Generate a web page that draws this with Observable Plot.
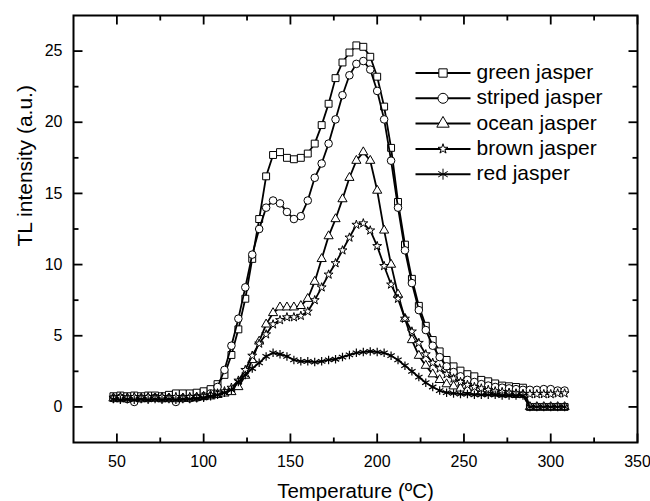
<!DOCTYPE html>
<html>
<head>
<meta charset="utf-8">
<script src="https://cdn.jsdelivr.net/npm/d3@7"></script>
<script src="https://cdn.jsdelivr.net/npm/@observablehq/plot@0.6"></script>
<style>
  html, body { margin: 0; padding: 0; background: #fff; }
</style>
</head>
<body>
<div id="chart"></div>
<script>
// Temperatures (°C)
const temps = [48,52,56,60,64,68,72,76,80,84,88,92,96,100,104,108,112,116,120,124,128,132,136,140,144,148,152,156,160,164,168,172,176,180,184,188,192,196,200,204,208,212,216,220,224,228,232,236,240,244,248,252,256,260,264,268,272,276,280,284,288,292,296,300,304,308];

// TL intensity (a.u.) per sample
const greenJasper = [0.75,0.8,0.75,0.8,0.75,0.8,0.8,0.75,0.85,
  0.95,0.95,0.95,1.0,1.1,1.25,1.6,2.25,3.65,5.45,
  7.6,10.4,13.2,16.2,17.7,17.9,17.5,17.4,17.5,17.8,
  18.5,19.8,21.3,23.1,24.2,24.9,25.4,25.3,24.6,23.2,
  21.1,18.2,14.4,11.4,9.0,7.1,5.7,4.7,3.9,3.3,
  2.85,2.55,2.3,2.15,1.9,1.8,1.65,1.5,1.45,1.4,
  1.35,
  0,0,0,0,0,0];
const stripedJasper = [0.6,0.65,0.55,0.35,0.6,0.6,0.65,0.6,0.6,
  0.35,0.6,0.6,0.65,0.75,0.95,1.4,2.6,4.3,6.2,
  8.4,10.7,12.5,14.0,14.5,14.3,13.7,13.2,13.4,14.5,
  16.1,17.1,18.5,20.2,21.9,23.3,24.1,24.3,23.7,22.2,
  20.2,17.3,14.0,11.0,8.7,6.8,5.4,4.3,3.5,2.85,
  2.45,2.15,1.9,1.75,1.6,1.5,1.4,1.35,1.3,1.25,
  1.2,
  1.2,1.2,1.25,1.25,1.15,1.15];
const oceanJasper = [0.6,0.55,0.6,0.6,0.55,0.6,0.6,0.55,0.6,
  0.55,0.6,0.6,0.65,0.7,0.75,0.85,0.95,1.05,1.4,
  2.2,3.3,4.6,5.8,6.6,7.0,7.0,7.0,7.1,7.6,
  8.8,10.4,12.0,13.2,14.6,16.1,17.3,17.9,17.3,15.2,
  12.4,10.0,7.9,6.2,4.7,3.6,2.9,2.3,1.9,1.6,
  1.45,1.3,1.2,1.1,1.05,1.0,0.95,0.9,0.9,0.85,
  0.85,
  0,0,0,0,0,0];
const brownJasper = [0.65,0.7,0.65,0.7,0.65,0.7,0.65,0.7,0.65,
  0.7,0.65,0.7,0.7,0.75,0.85,0.95,1.1,1.35,1.85,
  2.6,3.6,4.45,5.1,5.8,6.1,6.3,6.3,6.4,6.7,
  7.5,8.4,9.3,10.1,11.0,11.9,12.8,12.9,12.4,11.3,
  9.9,8.6,7.6,6.2,5.3,4.5,3.7,3.1,2.7,2.3,
  2.0,1.75,1.55,1.4,1.3,1.2,1.1,1.05,1.0,0.95,
  0.9,
  0.9,0.9,0.9,0.9,0.95,0.95];
const redJasper = [0.55,0.5,0.55,0.5,0.55,0.5,0.55,0.5,0.55,
  0.5,0.55,0.55,0.6,0.65,0.75,0.85,1.0,1.2,1.75,
  2.25,2.7,3.1,3.55,3.8,3.7,3.55,3.3,3.2,3.2,
  3.15,3.2,3.3,3.35,3.5,3.65,3.8,3.85,3.9,3.85,
  3.8,3.6,3.3,2.9,2.5,2.1,1.7,1.4,1.15,1.0,
  0.95,0.9,0.9,0.85,0.85,0.85,0.85,0.8,0.8,0.8,
  0.8,
  0,0,0,0,0,0];

const seriesNames = ["green jasper", "striped jasper", "ocean jasper", "brown jasper", "red jasper"];
const seriesSymbols = ["square", "circle", "triangle", "star", "asterisk"];
const seriesValues = [greenJasper, stripedJasper, oceanJasper, brownJasper, redJasper];

const xTickLabels = [50, 100, 150, 200, 250, 300, 350];
const xMinorTicks = [75, 125, 175, 225, 275, 325];
const yTickLabels = [0, 5, 10, 15, 20, 25];
const yMinorTicks = [2.5, 7.5, 12.5, 17.5, 22.5];

// styling (not data)
const dotR = [3.9, 3.8, 3.4, 2.8, 4.0];
const legendR = [4.7, 5, 4.6, 3.1, 5.2];

const rows = seriesNames.map((name, k) =>
  temps.map((t, i) => ({series: name, t, v: seriesValues[k][i]})));

const seg = (x1, y1, x2, y2) => ({draw(ctx) { ctx.moveTo(x1, y1); ctx.lineTo(x2, y2); }});

const mL = 73, mT = 15;
const tickStyle = {r: 1, fill: "none", stroke: "black", strokeWidth: 1.8};
const tickMarks = [
  Plot.dot(xTickLabels, {x: d => d, frameAnchor: "bottom", symbol: seg(0, 0, 0, -9), ...tickStyle}),
  Plot.dot(xMinorTicks, {x: d => d, frameAnchor: "bottom", symbol: seg(0, 0, 0, -5), ...tickStyle}),
  Plot.dot(xTickLabels, {x: d => d, frameAnchor: "top", symbol: seg(0, 0, 0, 9), ...tickStyle}),
  Plot.dot(xMinorTicks, {x: d => d, frameAnchor: "top", symbol: seg(0, 0, 0, 5), ...tickStyle}),
  Plot.dot(yTickLabels, {y: d => d, frameAnchor: "left", symbol: seg(0, 0, 9, 0), ...tickStyle}),
  Plot.dot(yMinorTicks, {y: d => d, frameAnchor: "left", symbol: seg(0, 0, 5, 0), ...tickStyle}),
  Plot.dot(yTickLabels, {y: d => d, frameAnchor: "right", symbol: seg(0, 0, -9, 0), ...tickStyle}),
  Plot.dot(yMinorTicks, {y: d => d, frameAnchor: "right", symbol: seg(0, 0, -5, 0), ...tickStyle})
];

const seriesMarks = rows.flatMap((data, k) => [
  Plot.line(data, {x: "t", y: "v", stroke: "black", strokeWidth: 1.8}),
  Plot.dot(data, {x: "t", y: "v", symbol: seriesSymbols[k], r: dotR[k],
    fill: seriesSymbols[k] === "asterisk" ? "none" : "white", stroke: "black",
    strokeWidth: seriesSymbols[k] === "asterisk" ? 1.2 : 1})
]);

const legendMarks = seriesNames.flatMap((name, k) => {
  const ly = 72.5 + 25.3 * k;
  return [
    Plot.dot([name], {frameAnchor: "top-left", dx: 442.5 - mL, dy: ly - mT, symbol: seg(-27.5, 0, 27.5, 0), r: 1, fill: "none", stroke: "black", strokeWidth: 2}),
    Plot.dot([name], {frameAnchor: "top-left", dx: 442.5 - mL, dy: ly - mT, symbol: seriesSymbols[k], r: legendR[k],
      fill: seriesSymbols[k] === "asterisk" ? "none" : "white", stroke: "black", strokeWidth: 1}),
    Plot.text([name], {frameAnchor: "top-left", dx: 476 - mL, dy: ly + 6 - mT, text: d => d, textAnchor: "start", lineAnchor: "bottom", fontSize: 21})
  ];
});

const chart = Plot.plot({
  width: 650,
  height: 501,
  marginLeft: mL,
  marginRight: 13,
  marginTop: mT,
  marginBottom: 59,
  x: {domain: [25, 350]},
  y: {domain: [-2.5, 27.5]},
  style: {fontFamily: "'Liberation Sans', Arial, sans-serif", fontSize: "16px", color: "black", background: "white", overflow: "visible"},
  marks: [
    Plot.axisX({ticks: xTickLabels, tickSize: 0, tickPadding: 13, label: null, fontSize: 16}),
    Plot.axisY({ticks: yTickLabels, tickSize: 0, tickPadding: 11, label: null, fontSize: 16}),
    ...seriesMarks,
    ...tickMarks,
    Plot.frame({stroke: "black", strokeWidth: 2}),
    ...legendMarks,
    Plot.text(["Temperature (ºC)"], {frameAnchor: "bottom", dy: 55, lineAnchor: "bottom", text: d => d, fontSize: 20.5}),
    Plot.text(["TL intensity (a.u.)"], {frameAnchor: "left", dx: -42, dy: 17.5, rotate: -90, lineAnchor: "bottom", text: d => d, fontSize: 21})
  ]
});
document.getElementById("chart").appendChild(chart);
</script>
</body>
</html>
